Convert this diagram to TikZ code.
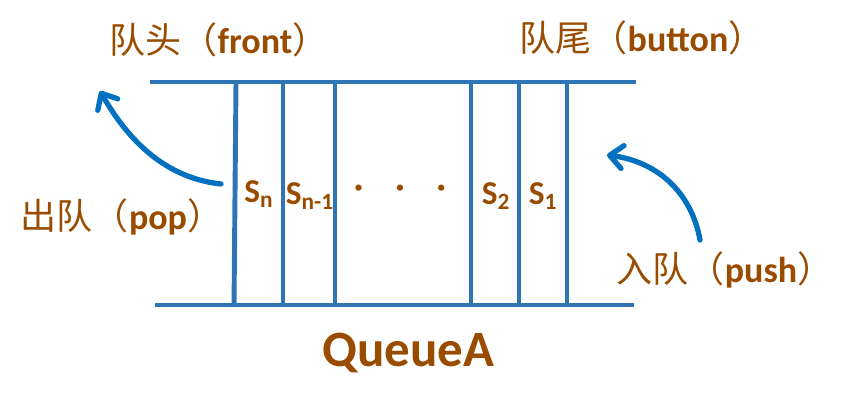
\documentclass[tikz,border=0pt]{standalone}
\usepackage{fontspec}
\setmainfont{Carlito}
\newfontfamily\cjk{Noto Sans CJK SC}
\usetikzlibrary{arrows.meta}
\definecolor{qblue}{RGB}{46,117,182}
\definecolor{qarrowblue}{RGB}{0,112,192}
\definecolor{qbrown}{RGB}{153,76,0}

\begin{document}
\begin{tikzpicture}[
      x=0.02cm, y=-0.02cm,
      qline/.style={draw=qblue, line width=2.8pt},
      qarrow/.style={draw=qarrowblue, line width=3pt, line cap=round,
        -{Straight Barb[length=2.6mm, width=4.6mm, round]}},
      lbl/.style={text=qbrown, font=\fontsize{20.5}{24}\selectfont, inner sep=0pt},
      elem/.style={text=qbrown, font=\fontsize{19}{22}\selectfont\bfseries, inner sep=0pt}
    ]
      \useasboundingbox (0,0) rectangle (868,411);

      % queue walls
      \coordinate (tl) at (150,82);
      \coordinate (tr) at (636,82);
      \coordinate (bl) at (155,305);
      \coordinate (br) at (634,305);
      \draw[qline] (tl) -- (tr);
      \draw[qline] (bl) -- (br);

      % element separators
      \draw[qline] (236,82) -- (234,307);
      \draw[qline] (283,82) -- (283,307);
      \draw[qline] (335,82) -- (335,307);
      \draw[qline] (471,82) -- (471,307);
      \draw[qline] (519,82) -- (519,307);
      \draw[qline] (567,82) -- (567,307);

      % elements
      \node[elem] (sn) at (259,194) {S\textsubscript{n}};
      \node[elem] (snm) at (310,196) {S\textsubscript{n-1}};
      \node[elem] (dots) at (400,191) {·\hspace{0.65cm}·\hspace{0.65cm}·};
      \node[elem] (s2) at (496,196) {S\textsubscript{2}};
      \node[elem] (s1) at (543,196) {S\textsubscript{1}};

      % labels
      \node[lbl] (front) at (219,40) {{\cjk 队头（}\textbf{front}{\cjk ）}};
      \node[lbl] (back) at (642,38) {{\cjk 队尾（}\textbf{button}{\cjk ）}};
      \node[lbl] (pop) at (122,217) {{\cjk 出队（}\textbf{pop}{\cjk ）}};
      \node[lbl] (push) at (725,270) {{\cjk 入队（}\textbf{push}{\cjk ）}};
      \node[text=qbrown, font=\fontsize{29}{32}\selectfont\bfseries] (name) at (408,353) {QueueA};

      % pop and push arrows
      \coordinate (popfrom) at (221,184);
      \coordinate (popto) at (100,91);
      \coordinate (pushfrom) at (700,240);
      \coordinate (pushto) at (607,155);
      \draw[qarrow] (popfrom) .. controls (165,178) and (128,140) .. (popto);
      \draw[qarrow] (pushfrom) .. controls (692,195) and (660,162) .. (pushto);
    \end{tikzpicture}
\end{document}
